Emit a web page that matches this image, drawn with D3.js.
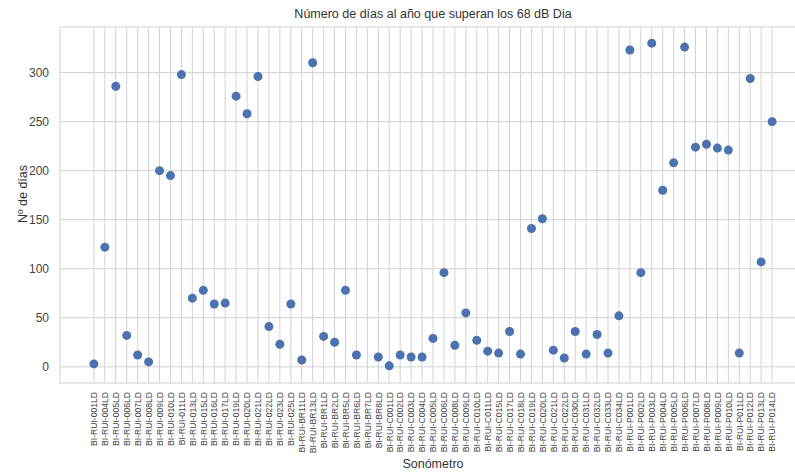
<!DOCTYPE html>
<html><head><meta charset="utf-8">
<script src="https://cdn.jsdelivr.net/npm/d3@7"></script>
<style>body{margin:0;background:#fff}svg{display:block}text{font-family:"Liberation Sans",Arial,sans-serif}</style>
</head><body><svg id="c" width="795" height="472"></svg>
<script>
const categories = ["BI-RUI-001LD","BI-RUI-004LD","BI-RUI-005LD","BI-RUI-006LD","BI-RUI-007LD","BI-RUI-008LD","BI-RUI-009LD","BI-RUI-010LD","BI-RUI-011LD","BI-RUI-013LD","BI-RUI-015LD","BI-RUI-016LD","BI-RUI-017LD","BI-RUI-019LD","BI-RUI-020LD","BI-RUI-021LD","BI-RUI-022LD","BI-RUI-023LD","BI-RUI-025LD","BI-RUI-BR11LD","BI-RUI-BR13LD","BI-RUI-BR1LD","BI-RUI-BR2LD","BI-RUI-BR5LD","BI-RUI-BR6LD","BI-RUI-BR7LD","BI-RUI-BR8LD","BI-RUI-C001LD","BI-RUI-C002LD","BI-RUI-C003LD","BI-RUI-C004LD","BI-RUI-C005LD","BI-RUI-C006LD","BI-RUI-C008LD","BI-RUI-C009LD","BI-RUI-C010LD","BI-RUI-C011LD","BI-RUI-C015LD","BI-RUI-C017LD","BI-RUI-C018LD","BI-RUI-C019LD","BI-RUI-C020LD","BI-RUI-C021LD","BI-RUI-C022LD","BI-RUI-C030LD","BI-RUI-C031LD","BI-RUI-C032LD","BI-RUI-C033LD","BI-RUI-C034LD","BI-RUI-P001LD","BI-RUI-P002LD","BI-RUI-P003LD","BI-RUI-P004LD","BI-RUI-P005LD","BI-RUI-P006LD","BI-RUI-P007LD","BI-RUI-P008LD","BI-RUI-P009LD","BI-RUI-P010LD","BI-RUI-P011LD","BI-RUI-P012LD","BI-RUI-P013LD","BI-RUI-P014LD"];
const dias = [3,122,286,32,12,5,200,195,298,70,78,64,65,276,258,296,41,23,64,7,310,31,25,78,12,null,10,1,12,10,10,29,96,22,55,27,16,14,36,13,141,151,17,9,36,13,33,14,52,323,96,330,180,208,326,224,227,223,221,14,294,107,250];
const yTicks = [0,50,100,150,200,250,300];
const title = "Número de días al año que superan los 68 dB Dia";
const xTitle = "Sonómetro";
const yTitle = "Nº de días";

const svg = d3.select("#c");
const L = 60, R = 806, T = 27, B = 383;
const n = categories.length;
const pad = (n - 1) * 0.05;
const x = d3.scaleLinear().domain([-pad, n - 1 + pad]).range([L, R]);
const yMax = d3.max(dias.filter(d => d != null)), yMin = 0;
const ym = (yMax - yMin) * 0.05;
const y = d3.scaleLinear().domain([yMin - ym, yMax + ym]).range([B, T]);

const grid = "#d2d2d2";
svg.append("g").selectAll("line").data(yTicks).join("line")
  .attr("x1", L).attr("x2", R).attr("y1", d => y(d)).attr("y2", d => y(d))
  .attr("stroke", grid).attr("stroke-width", 1);
svg.append("g").selectAll("line").data(categories).join("line")
  .attr("x1", (d, i) => x(i)).attr("x2", (d, i) => x(i)).attr("y1", T).attr("y2", B)
  .attr("stroke", grid).attr("stroke-width", 1);
svg.append("rect").attr("x", L).attr("y", T).attr("width", R - L).attr("height", B - T)
  .attr("fill", "none").attr("stroke", grid).attr("stroke-width", 1);

const yAxis = d3.axisLeft(y).tickValues(yTicks).tickSize(0).tickPadding(11);
const gy = svg.append("g").attr("transform", `translate(${L},0)`).call(yAxis);
gy.select(".domain").remove();
gy.selectAll("text").attr("font-size", 12).attr("fill", "#444")
  .style("font-family", '"Liberation Sans",Arial,sans-serif');

const xAxis = d3.axisBottom(x).tickValues(d3.range(n)).tickFormat(i => categories[i]).tickSize(0);
const gx = svg.append("g").attr("transform", `translate(0,${B})`).call(xAxis);
gx.select(".domain").remove();
gx.selectAll("text").attr("font-size", 8.6).attr("fill", "#444")
  .style("font-family", '"Liberation Sans",Arial,sans-serif')
  .attr("text-anchor", "end").attr("dy", "0.32em").attr("y", 0)
  .attr("transform", "translate(0,9) rotate(-90)");

svg.append("g").selectAll("circle").data(dias.map((v, i) => ({v, i})).filter(d => d.v != null)).join("circle")
  .attr("cx", d => x(d.i)).attr("cy", d => y(d.v)).attr("r", 4.5)
  .attr("fill", "#4c72b0");

svg.append("text").attr("x", (L + R) / 2).attr("y", 18).attr("text-anchor", "middle")
  .attr("font-size", 12.5).attr("fill", "#333").text(title);
svg.append("text").attr("x", (L + R) / 2).attr("y", 468).attr("text-anchor", "middle")
  .attr("font-size", 12.5).attr("fill", "#333").text(xTitle);
svg.append("text").attr("transform", `translate(27,194) rotate(-90)`).attr("text-anchor", "middle")
  .attr("font-size", 12.5).attr("fill", "#333").text(yTitle);
</script></body></html>
